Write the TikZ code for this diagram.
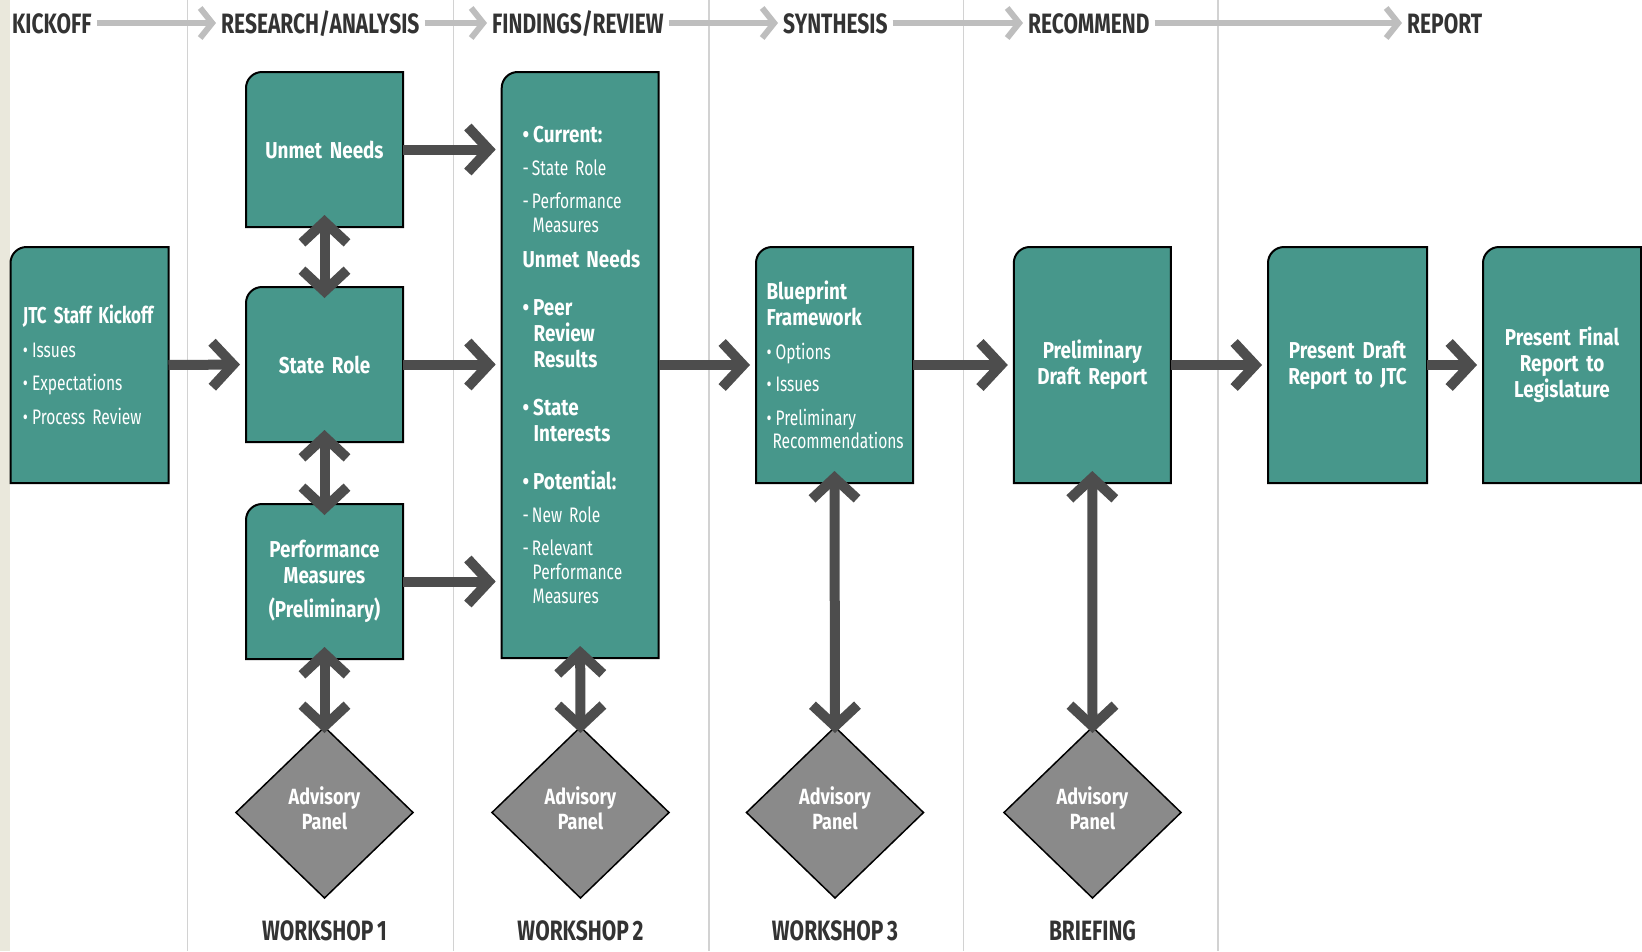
\documentclass[tikz,border=0pt]{standalone}
\usepackage{fontspec}
\setmainfont{Fira Sans}[FakeStretch=0.82,WordSpace=0.75]
\newfontfamily\regfont{Fira Sans}[FakeStretch=0.74,WordSpace=0.7]
\newfontfamily\headfont{Fira Sans}[FakeStretch=0.75,WordSpace=0.75]
\newfontfamily\narrowbold{Fira Sans}[FakeStretch=0.74,WordSpace=0.7]
\usetikzlibrary{arrows.meta,shapes.geometric,backgrounds}
\hyphenpenalty=10000
\exhyphenpenalty=10000
\definecolor{tealbox}{RGB}{71,151,139}
\definecolor{arrowgray}{RGB}{77,77,77}
\definecolor{headgray}{RGB}{190,190,190}
\definecolor{sepgray}{RGB}{210,210,210}
\definecolor{diagray}{RGB}{138,138,138}
\definecolor{headtext}{RGB}{51,51,51}
\definecolor{stripbeige}{RGB}{234,232,220}
\newcommand\bxt[1]{{\rmfamily\bfseries\fontsize{23}{26}\selectfont #1}}
\newcommand\bul{•\hspace{4pt}}
\tikzset{
  box/.style={rectangle, draw=none, outer sep=0pt, text=white, minimum width=157pt, minimum height=236pt, inner ysep=0pt},
  cbox/.style={box, text width=145pt, inner xsep=6pt, align=center, font=\rmfamily\bfseries\fontsize{23}{26}\selectfont},
  lbox/.style={box, align=left, font=\regfont\fontsize{21}{25}\selectfont},
  boxshape/.style={fill=tealbox, draw=black, line width=2pt, line join=miter},
  panel/.style={diamond, draw=black, line width=1.5pt, fill=diagray, minimum width=177pt, minimum height=171pt, inner sep=0pt, text=white, align=center, font=\rmfamily\bfseries\fontsize{22}{25}\selectfont, outer sep=0pt, text depth=9pt},
  phasehead/.style={text=headtext, font=\headfont\bfseries\fontsize{28}{28}\selectfont, text height=20pt, text depth=0pt, inner xsep=5pt, inner ysep=0pt, anchor=base west},
  wslabel/.style={text=headtext, font=\headfont\bfseries\fontsize{28}{28}\selectfont, anchor=base},
  phasearrow/.style={draw=headgray, line width=6pt, -{Straight Barb[length=12pt,width=30pt]}},
  flowarrow/.style={draw=arrowgray, line width=10pt, -{Straight Barb[length=21pt,width=45pt]}, shorten >=6pt},
  dflowarrow/.style={draw=arrowgray, line width=10pt, {Straight Barb[length=21pt,width=45pt]}-{Straight Barb[length=21pt,width=45pt]}},
  colsep/.style={draw=sepgray, line width=1.5pt},
}
\begin{document}
\begin{tikzpicture}[x=1pt,y=1pt]
\useasboundingbox (0,0) rectangle (1642,-951);

% phase headers
\node[phasehead] (h1) at (7,-33) {KICKOFF};
\node[phasehead] (h2) at (216,-33) {RESEARCH/ANALYSIS};
\node[phasehead] (h3) at (487,-33) {FINDINGS/REVIEW};
\node[phasehead] (h4) at (778,-33) {SYNTHESIS};
\node[phasehead] (h5) at (1023,-33) {RECOMMEND};
\node[phasehead] (h6) at (1402,-33) {REPORT};

% boxes
\node[lbox, minimum width=158pt, text width=140pt, inner xsep=9pt, font=\regfont\fontsize{21}{33}\selectfont] (jtc) at (89.5,-365)
  {\hspace*{3.5pt}{\narrowbold\bfseries\fontsize{23}{26}\selectfont JTC~Staff~Kickoff}\\[1pt]
   \hspace*{3.5pt}\bul Issues\\
   \hspace*{3.5pt}\bul Expectations\\[1pt]
   \hspace*{3.5pt}\bul Process~Review};
\node[cbox, minimum height=155pt] (unmet) at (324.5,-149.5) {Unmet Needs};
\node[cbox, minimum height=155pt] (state) at (324.5,-364.5) {State Role};
\node[cbox, minimum height=155pt] (perf) at (324.5,-581.5) {Performance\\Measures\\[8.6pt](Preliminary)};
\node[lbox, minimum height=586pt, text width=115pt, inner xsep=21pt] (find) at (580.2,-365)
  {\bxt{\bul Current:}\\[8.5pt]
   -\hspace{3pt}State~Role\\[7.5pt]
   -\hspace{3pt}Performance\\[-1pt]
   \hspace*{10pt}Measures\\[9.7pt]
   \bxt{Unmet~Needs}\\[23pt]
   \bxt{\bul Peer}\\[1pt]
   \hspace*{11pt}\bxt{Review}\\[1pt]
   \hspace*{11pt}\bxt{Results}\\[23pt]
   \bxt{\bul State}\\[1.5pt]
   \hspace*{11pt}\bxt{Interests}\\[23pt]
   \bxt{\bul Potential:}\\[8pt]
   -\hspace{3pt}New~Role\\[8pt]
   -\hspace{3pt}Relevant\\[-1pt]
   \hspace*{10pt}Performance\\[-1pt]
   \hspace*{10pt}Measures};
\node[lbox, text width=140pt, inner xsep=8.5pt] (blue) at (834.5,-365)
  {\hspace*{2pt}\bxt{Blueprint}\\[1pt]
   \hspace*{2pt}\bxt{Framework}\\[9pt]
   \hspace*{2pt}\bul Options\\[7pt]
   \hspace*{2pt}\bul Issues\\[9pt]
   \hspace*{2pt}\bul Preliminary\\[-2pt]
   \hspace*{8pt}Recommendations};
\node[cbox] (prelim) at (1092.3,-365) {Preliminary\\Draft Report};
\node[cbox, minimum width=159pt, text width=147pt] (pdraft) at (1347.5,-365) {Present Draft\\Report to JTC};
\node[cbox, minimum width=158pt, text width=146pt] (pfinal) at (1562,-365) {Present Final\\Report to\\Legislature};

% advisory panels
\node[panel] (d1) at (324.5,-812.5) {Advisory\\Panel};
\node[panel] (d2) at (580.5,-812.5) {Advisory\\Panel};
\node[panel] (d3) at (835,-812.5) {Advisory\\Panel};
\node[panel] (d4) at (1092.5,-812.5) {Advisory\\Panel};

% bottom labels
\node[wslabel] (w1) at (324.5,-940) {WORKSHOP 1};
\node[wslabel] (w2) at (580.5,-940) {WORKSHOP 2};
\node[wslabel] (w3) at (835,-940) {WORKSHOP 3};
\node[wslabel] (w4) at (1092.5,-940) {BRIEFING};

% background: strip, separators, box shapes
\begin{scope}[on background layer]
  \fill[stripbeige] (0,0) rectangle (9.5,-951);
  \foreach \sx in {187.5,453.5,709,963.5,1218}{
    \draw[colsep] (\sx,0) -- (\sx,-951);
  }
  \foreach \n in {jtc,unmet,state,perf,find,blue,prelim,pdraft,pfinal}{
    \path[boxshape] (\n.south west) -- ([yshift=-16pt]\n.north west)
      arc[start angle=180,end angle=90,radius=16pt] -- (\n.north east) -- (\n.south east) -- cycle;
  }
\end{scope}

% phase arrows
\draw[phasearrow] (h1.east) -- (h2.west);
\draw[phasearrow] (h2.east) -- (h3.west);
\draw[phasearrow] (h3.east) -- (h4.west);
\draw[phasearrow] (h4.east) -- (h5.west);
\draw[phasearrow] (h5.east) -- (h6.west);

% flow arrows
\draw[flowarrow] (jtc.east) -- (state.west);
\draw[flowarrow] (unmet.east) -- (unmet.east -| find.west);
\draw[flowarrow] (state.east) -- (state.east -| find.west);
\draw[flowarrow] (perf.east) -- (perf.east -| find.west);
\draw[flowarrow] (find.east) -- (blue.west);
\draw[flowarrow] (blue.east) -- (prelim.west);
\draw[flowarrow] (prelim.east) -- (pdraft.west);
\draw[flowarrow] (pdraft.east) -- (pfinal.west);

% two-way arrows
\draw[dflowarrow, shorten <=-12pt, shorten >=-11pt] (unmet.south) -- (state.north);
\draw[dflowarrow, shorten <=-12pt, shorten >=-11pt] (state.south) -- (perf.north);
\draw[dflowarrow, shorten <=-12pt, shorten >=-6pt] (perf.south) -- (d1.north);
\draw[dflowarrow, shorten <=-12pt, shorten >=-6pt] (find.south) -- (d2.north);
\draw[dflowarrow, shorten <=-12pt, shorten >=-6pt] (blue.south) -- (d3.north);
\draw[dflowarrow, shorten <=-12pt, shorten >=-6pt] (prelim.south) -- (d4.north);
\end{tikzpicture}
\end{document}
